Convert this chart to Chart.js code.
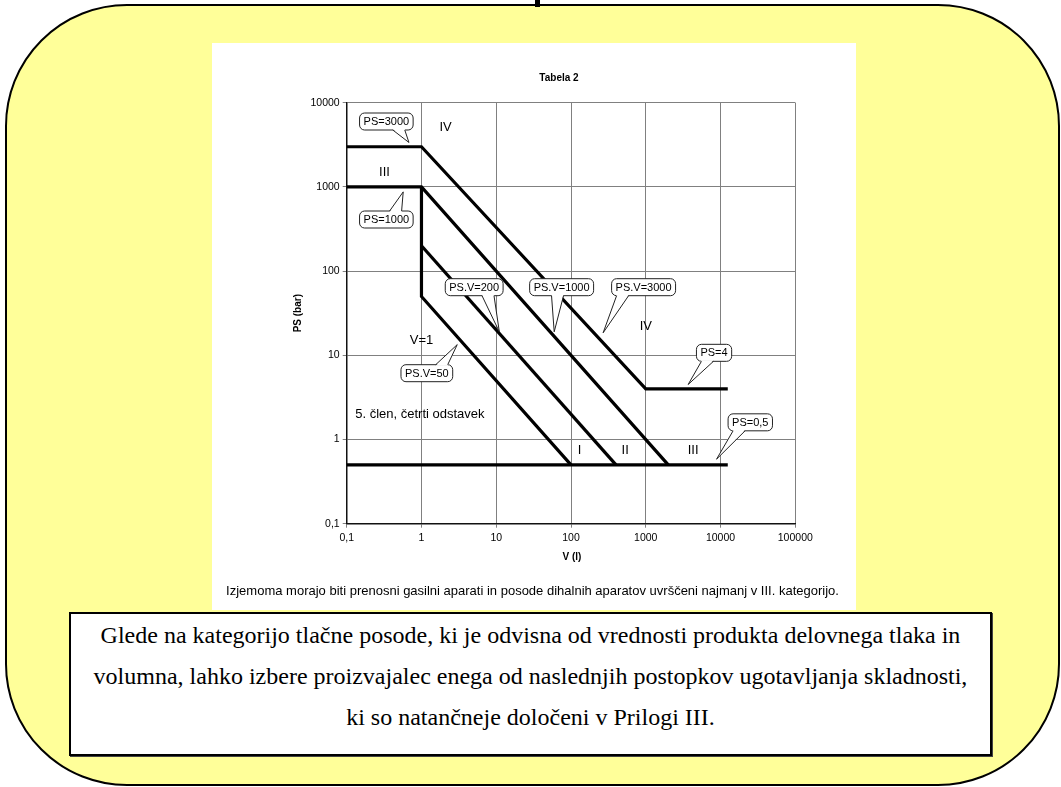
<!DOCTYPE html>
<html>
<head>
<meta charset="utf-8">
<script src="https://cdn.jsdelivr.net/npm/chart.js@4.4.1/dist/chart.umd.min.js"></script>
<style>
html, body { margin: 0; padding: 0; background: #fff; }
#page { position: relative; width: 1061px; height: 787px; overflow: hidden; }
#frame { position: absolute; left: 5px; top: 4px; width: 1055px; height: 782px; box-sizing: border-box;
  background: #ffff99; border: 2px solid #000; border-radius: 122px; }
#mark { position: absolute; left: 535px; top: 0; width: 5px; height: 7px; background: #000; }
#sheet { position: absolute; left: 212px; top: 43px; width: 644px; height: 567px; background: #fff; }
#chart { position: absolute; left: 212px; top: 43px; }
#note { position: absolute; left: 212px; top: 583px; width: 641px; text-align: center;
  font: 13px "Liberation Sans", Arial, sans-serif; color: #000; }
#box { position: absolute; left: 69px; top: 612px; width: 923px; height: 144px; box-sizing: border-box;
  background: #fff; border: 2px solid #000; box-shadow: 1px 1px 0 #444; text-align: center;
  font: 24px "Liberation Serif", "Times New Roman", serif; line-height: 41px; padding-top: 1px; color: #000; }
</style>
</head>
<body>
<div id="page">
  <div id="frame"></div>
  <div id="mark"></div>
  <div id="sheet"></div>
  <canvas id="chart" width="644" height="567"></canvas>
  <div id="note">Izjemoma morajo biti prenosni gasilni aparati in posode dihalnih aparatov uvrščeni najmanj v III. kategorijo.</div>
  <div id="box">Glede na kategorijo tlačne posode, ki je odvisna od vrednosti produkta delovnega tlaka in<br>volumna, lahko izbere proizvajalec enega od naslednjih postopkov ugotavljanja skladnosti,<br>ki so natančneje določeni v Prilogi III.</div>
</div>
<script>
// meje kategorij: V (l) in PS (bar)
const ps3000V = [0.1, 1, 1000, 12500];
const ps3000P = [3000, 3000, 4, 4];
const ps1000V = [0.1, 1, 2000];
const ps1000P = [1000, 1000, 0.5];
const v1V = [1, 1, 100];
const v1P = [1000, 50, 0.5];
const psv200V = [1, 400];
const psv200P = [200, 0.5];
const ps05V = [0.1, 12500];
const ps05P = [0.5, 0.5];

const xTickValues = [0.1, 1, 10, 100, 1000, 10000, 100000];
const xTickLabels = ['0,1', '1', '10', '100', '1000', '10000', '100000'];
const yTickValues = [0.1, 1, 10, 100, 1000, 10000];
const yTickLabels = ['0,1', '1', '10', '100', '1000', '10000'];

// oznake kategorij (V, PS)
const zoneLabels = [
  ['IV', 2.1, 5100], ['III', 0.32, 1500], ['V=1', 1, 15], ['IV', 1000, 22],
  ['I', 130, 0.75], ['II', 530, 0.75], ['III', 4300, 0.75]
];
// oblački: besedilo, sredina (V, PS), konica (V, PS)
const callouts = [
  ['PS=3000', 0.339, 5980, 0.68, 3370],
  ['PS=1000', 0.339, 410, 0.57, 873],
  ['PS.V=200', 5.07, 64.4, 11, 19],
  ['PS.V=1000', 74.9, 64.4, 59.6, 19],
  ['PS.V=3000', 935, 64.4, 269, 18.5],
  ['PS.V=50', 1.18, 6.13, 3.01, 13.4],
  ['PS=4', 8190, 10.7, 3690, 4.5],
  ['PS=0,5', 25000, 1.6, 8850, 0.584]
];

function toPoints(vs, ps) {
  return vs.map((v, i) => ({ x: v, y: ps[i] }));
}
function lineSet(label, vs, ps) {
  return {
    label: label,
    data: toPoints(vs, ps),
    showLine: true,
    borderColor: '#000',
    borderWidth: 3.2,
    pointRadius: 0,
    tension: 0,
    borderJoinStyle: 'miter'
  };
}

const sans = '"Liberation Sans", Arial, sans-serif';

function drawCallout(ctx, text, cx, cy, tx, ty) {
  ctx.font = '11px ' + sans;
  const w = ctx.measureText(text).width + 8, h = 17, r = 5;
  const l = cx - w / 2, t = cy - h / 2;
  ctx.beginPath();
  ctx.roundRect(l, t, w, h, r);
  ctx.fillStyle = '#fff';
  ctx.fill();
  ctx.strokeStyle = '#222';
  ctx.lineWidth = 1;
  ctx.stroke();
  const below = ty > cy;
  const ey = below ? t + h : t;
  const inset = below ? -1 : 1;
  let bx = cx + (tx - cx) * 0.55;
  bx = Math.max(l + r + 6, Math.min(l + w - r - 6, bx));
  ctx.beginPath();
  ctx.moveTo(bx - 6, ey + inset);
  ctx.lineTo(tx, ty);
  ctx.lineTo(bx + 6, ey + inset);
  ctx.closePath();
  ctx.fill();
  ctx.beginPath();
  ctx.moveTo(bx - 6, ey);
  ctx.lineTo(tx, ty);
  ctx.lineTo(bx + 6, ey);
  ctx.stroke();
  ctx.fillStyle = '#000';
  ctx.textAlign = 'center';
  ctx.textBaseline = 'middle';
  ctx.fillText(text, cx, cy + 0.5);
}

const labelsPlugin = {
  id: 'labelsPlugin',
  afterDatasetsDraw(chart) {
    const ctx = chart.ctx, xs = chart.scales.x, ys = chart.scales.y, a = chart.chartArea;
    ctx.save();
    ctx.fillStyle = '#000';
    ctx.textBaseline = 'middle';
    ctx.font = '13px ' + sans;
    ctx.textAlign = 'center';
    zoneLabels.forEach(z => {
      ctx.fillText(z[0], xs.getPixelForValue(z[1]), ys.getPixelForValue(z[2]));
    });
    ctx.textAlign = 'left';
    ctx.fillText('5. člen, četrti odstavek', xs.getPixelForValue(0.13), ys.getPixelForValue(2));
    callouts.forEach(c => {
      drawCallout(ctx, c[0], xs.getPixelForValue(c[1]), ys.getPixelForValue(c[2]),
        xs.getPixelForValue(c[3]), ys.getPixelForValue(c[4]));
    });
    // naslovi
    ctx.fillStyle = '#000';
    ctx.font = 'bold 10px ' + sans;
    ctx.textAlign = 'center';
    ctx.textBaseline = 'middle';
    ctx.fillText('Tabela 2', a.left + 212.3, a.top - 24);
    ctx.fillText('V (l)', (a.left + a.right) / 2 + 1, a.bottom + 33.5);
    ctx.translate(a.left - 48.7, (a.top + a.bottom) / 2);
    ctx.rotate(-Math.PI / 2);
    ctx.fillText('PS (bar)', 0, 0);
    ctx.restore();
  }
};

const chart = new Chart(document.getElementById('chart'), {
  type: 'scatter',
  data: {
    datasets: [
      lineSet('PS=3000', ps3000V, ps3000P),
      lineSet('PS=1000', ps1000V, ps1000P),
      lineSet('V=1', v1V, v1P),
      lineSet('PS.V=200', psv200V, psv200P),
      lineSet('PS=0,5', ps05V, ps05P)
    ]
  },
  options: {
    responsive: false,
    animation: false,
    layout: { padding: { top: 59.7, right: 60.7, left: 0, bottom: 0 } },
    plugins: { legend: { display: false }, tooltip: { enabled: false } },
    scales: {
      x: {
        type: 'logarithmic',
        min: 0.1,
        max: 100000,
        afterFit: s => { s.height = 86.3; },
        afterBuildTicks: s => { s.ticks = xTickValues.map(v => ({ value: v })); },
        ticks: {
          callback: v => xTickLabels[xTickValues.indexOf(v)],
          font: { family: sans, size: 10.5 },
          color: '#000',
          padding: 4,
          maxRotation: 0,
          autoSkip: false
        },
        grid: { color: '#808080', lineWidth: 1, tickLength: 4 },
        border: { color: '#111', width: 1.5 }
      },
      y: {
        type: 'logarithmic',
        min: 0.1,
        max: 10000,
        afterFit: s => { s.width = 134.7; },
        afterBuildTicks: s => { s.ticks = yTickValues.map(v => ({ value: v })); },
        ticks: {
          callback: v => yTickLabels[yTickValues.indexOf(v)],
          font: { family: sans, size: 10.5 },
          color: '#000',
          padding: 3,
          autoSkip: false
        },
        grid: { color: '#808080', lineWidth: 1, tickLength: 4 },
        border: { color: '#111', width: 1.5 }
      }
    }
  },
  plugins: [labelsPlugin]
});
</script>
</body>
</html>
